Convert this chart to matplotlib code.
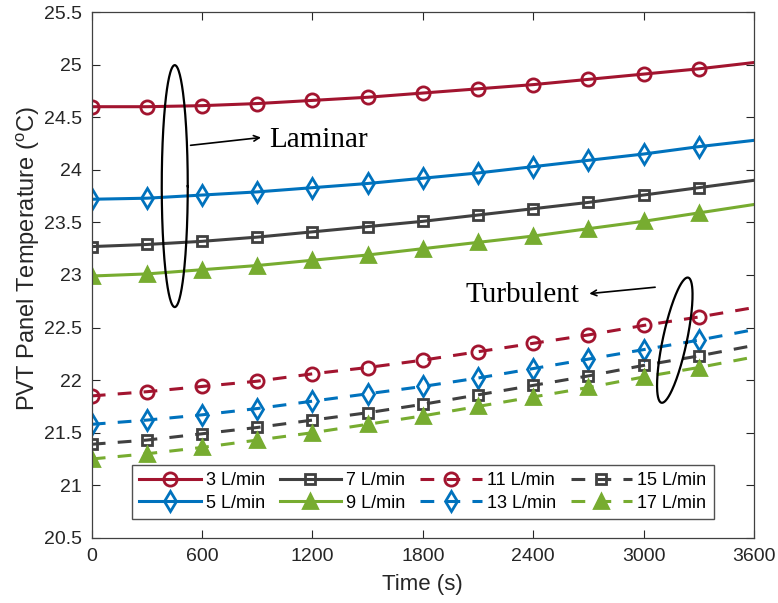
import numpy as np
import matplotlib
matplotlib.use("Agg")
import matplotlib.pyplot as plt

time_s = [0, 300, 600, 900, 1200, 1500, 1800, 2100, 2400, 2700, 3000, 3300, 3600]

t3 = [24.60, 24.60, 24.61, 24.63, 24.66, 24.69, 24.73, 24.77, 24.81, 24.86, 24.91, 24.96, 25.02]
t5 = [23.72, 23.73, 23.76, 23.79, 23.83, 23.87, 23.92, 23.97, 24.03, 24.09, 24.15, 24.22, 24.28]
t7 = [23.27, 23.29, 23.32, 23.36, 23.41, 23.46, 23.51, 23.57, 23.63, 23.69, 23.76, 23.83, 23.90]
t9 = [22.99, 23.01, 23.05, 23.09, 23.14, 23.19, 23.25, 23.31, 23.37, 23.44, 23.51, 23.59, 23.67]
t11 = [21.85, 21.89, 21.94, 21.99, 22.06, 22.12, 22.19, 22.27, 22.35, 22.43, 22.52, 22.60, 22.69]
t13 = [21.58, 21.62, 21.67, 21.73, 21.80, 21.87, 21.94, 22.02, 22.11, 22.20, 22.29, 22.38, 22.48]
t15 = [21.39, 21.43, 21.49, 21.55, 21.62, 21.69, 21.77, 21.86, 21.95, 22.04, 22.14, 22.23, 22.33]
t17 = [21.25, 21.30, 21.36, 21.43, 21.50, 21.58, 21.66, 21.75, 21.84, 21.93, 22.03, 22.12, 22.22]

labels = ["3 L/min", "5 L/min", "7 L/min", "9 L/min",
          "11 L/min", "13 L/min", "15 L/min", "17 L/min"]
xticks = [0, 600, 1200, 1800, 2400, 3000, 3600]
yticks = [20.5, 21, 21.5, 22, 22.5, 23, 23.5, 24, 24.5, 25, 25.5]

RED = "#A2142F"
BLUE = "#0072BD"
GRAY = "#404040"
GREEN = "#77AC30"

plt.rcParams['font.family'] = ['Liberation Sans', 'DejaVu Sans']
plt.rcParams['mathtext.fontset'] = 'custom'
plt.rcParams['mathtext.rm'] = 'Liberation Sans'

fig = plt.figure(figsize=(7.78, 6.03), dpi=100)
ax = fig.add_axes([0.118, 0.108, 0.851, 0.872])

series = [t3, t5, t7, t9, t11, t13, t15, t17]
colors = [RED, BLUE, GRAY, GREEN, RED, BLUE, GRAY, GREEN]
markers = ['o', 'd', 's', '^', 'o', 'd', 's', '^']
msizes = [9.5, 10, 7, 10, 9.5, 10, 7, 10]
lines = {}
for i, (ys, c, m, ms, lab) in enumerate(zip(series, colors, markers, msizes, labels)):
    dashed = i >= 4
    face = c if m == '^' else 'none'
    ln, = ax.plot(time_s, ys, color=c, lw=2.2, marker=m, ms=ms, mew=2.0,
                  mfc=face, mec=c, markevery=slice(0, 12), label=lab,
                  linestyle=(0, (4.5, 4)) if dashed else '-')
    lines[lab] = ln

ax.set_xlim(0, 3600)
ax.set_ylim(20.5, 25.5)
ax.set_xticks(xticks)
ax.set_yticks(yticks)
ax.set_yticklabels([f"{v:g}" for v in yticks])
ax.tick_params(direction='in', length=6, labelsize=14, colors='#262626',
               top=True, right=True, pad=7)
for sp in ax.spines.values():
    sp.set_color('#404040')
    sp.set_linewidth(0.9)
ax.set_xlabel("Time (s)", fontsize=16, color='#262626', labelpad=7)
ax.set_ylabel("PVT Panel Temperature ($^{\\rm o}$C)", fontsize=17, color='#262626')
ax.yaxis.set_label_coords(-0.075, 0.532)

order = ["3 L/min", "5 L/min", "7 L/min", "9 L/min",
         "11 L/min", "13 L/min", "15 L/min", "17 L/min"]
leg = ax.legend([lines[k] for k in order], order, ncol=4, loc='lower center',
                bbox_to_anchor=(0.5, 0.036), fontsize=13, frameon=True, fancybox=False,
                edgecolor='#262626', handlelength=3.4, handletextpad=0.3,
                columnspacing=0.8, borderpad=0.4, labelspacing=0.3,
                borderaxespad=0.0)
leg.get_frame().set_linewidth(1.0)

# ellipses drawn in pixel-proportional shape
pxs = 662.0 / 3600.0   # pixels per second
pyd = 526.0 / 5.0      # pixels per degree
th = np.linspace(0, 2 * np.pi, 200)

def ellipse(cx, cy, a_px, b_px, ang_deg):
    ang = np.deg2rad(ang_deg)
    u = a_px * np.cos(th)
    v = b_px * np.sin(th)
    xp = u * np.cos(ang) - v * np.sin(ang)
    yp = u * np.sin(ang) + v * np.cos(ang)
    ax.plot(cx + xp / pxs, cy + yp / pyd, color='black', lw=1.6, clip_on=False)

ellipse(451, 23.845, 13, 121, 0)
ellipse(3170, 22.38, 12, 64, -12)

serif = ['Liberation Serif', 'DejaVu Serif']
ax.annotate("", xy=(935, 24.31), xytext=(522, 24.23),
            arrowprops=dict(arrowstyle='->', color='black', lw=1.2))
ax.text(962, 24.28, "Laminar", family=serif, fontsize=21, va='center', ha='left')
ax.annotate("", xy=(2690, 22.82), xytext=(3078, 22.886),
            arrowprops=dict(arrowstyle='->', color='black', lw=1.2))
ax.text(2650, 22.81, "Turbulent", family=serif, fontsize=21, va='center', ha='right')

fig.savefig("out.png", dpi=100)
